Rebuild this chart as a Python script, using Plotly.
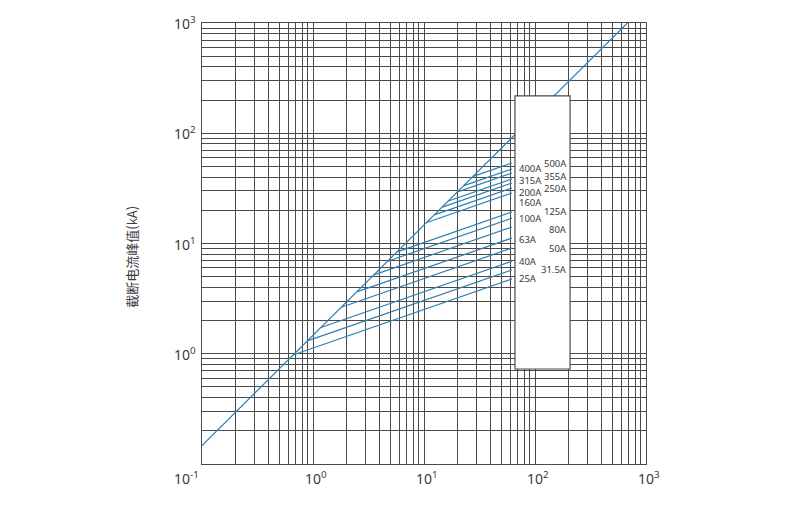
import math
import plotly.graph_objects as go

# ---- data ----
ratings = ["500A", "400A", "355A", "315A", "250A", "200A", "160A",
           "125A", "100A", "80A", "63A", "50A", "40A", "31.5A", "25A"]
# start point of each cut-off line (on the diagonal), prospective current kA
start_x = [27.7, 22.9, 20.1, 16.6, 14.6, 12.4, 10.6, 5.74, 4.71, 3.54, 2.48, 1.80, 1.18, 0.89, 0.67]
start_y = [40.6, 33.5, 29.4, 24.3, 21.4, 18.2, 15.5, 8.4, 6.9, 5.19, 3.64, 2.64, 1.73, 1.31, 0.98]
end_x = 62
end_y = [53.7, 47.4, 43.6, 38.5, 35.4, 31.9, 28.7, 19.3, 17.0, 14.1, 11.2, 9.1, 6.9, 5.75, 4.77]

diag_x = [0.1, 680]
diag_y = [0.147, 1000]

left_labels = ["400A", "315A", "200A", "160A", "100A", "63A", "40A", "25A"]
left_label_y = [48.4, 37.0, 29.3, 23.5, 16.8, 10.9, 6.8, 4.82]
right_labels = ["500A", "355A", "250A", "125A", "80A", "50A", "31.5A"]
right_label_y = [53.2, 40.9, 31.5, 19.7, 13.5, 9.0, 5.87]

x_tick_exp = [-1, 0, 1, 2, 3]
y_tick_exp = [0, 1, 2, 3]
y_title = "截断电流峰值(kA)"

# ---- styling ----
LINE_C = "#2f7fb1"
GRID_C = "#4a4a4a"
TEXT_C = "#3a3a3a"

fig = go.Figure()
fig.add_trace(go.Scatter(x=diag_x, y=diag_y, mode="lines",
                         line=dict(color=LINE_C, width=1.2), showlegend=False, hoverinfo="skip"))
for r, sx, sy, ey in zip(ratings, start_x, start_y, end_y):
    fig.add_trace(go.Scatter(x=[sx, end_x], y=[sy, ey], mode="lines", name=r,
                             line=dict(color=LINE_C, width=1.2), showlegend=False))

grid_vals = [m * 10 ** e for e in range(-1, 3) for m in range(1, 10)] + [1000]

axis_style = dict(type="log", range=[-1, 3], tickvals=grid_vals, showticklabels=False,
                  showgrid=True, gridcolor=GRID_C, gridwidth=1, zeroline=False,
                  showline=True, linecolor=GRID_C, linewidth=1.2, mirror=True, ticks="")
fig.update_xaxes(**axis_style)
fig.update_yaxes(**axis_style)

# white label box
fig.add_shape(type="rect", xref="x", yref="y", x0=66, x1=207, y0=0.727, y1=218,
              fillcolor="white", line=dict(color=GRID_C, width=1.2), layer="above")

label_font = dict(family="Noto Sans", size=9.5, color=TEXT_C)
anns = []
for t, y in zip(left_labels, left_label_y):
    anns.append(dict(x=1.847, y=math.log10(y), xref="x", yref="y", text=t, borderpad=0,
                     showarrow=False, xanchor="left", yanchor="middle", font=label_font))
for t, y in zip(right_labels, right_label_y):
    anns.append(dict(x=2.297, y=math.log10(y), xref="x", yref="y", text=t, borderpad=0,
                     showarrow=False, xanchor="right", yanchor="middle", font=label_font))

tick_font = dict(family="Noto Sans", size=14, color=TEXT_C)
for e in x_tick_exp:
    sup = ("-" if e < 0 else "") + str(abs(e))
    anns.append(dict(x=e, y=0, xref="x", yref="paper", yshift=-14,
                     xshift=-16 if e == -1 else 3,
                     text="10<sup>" + sup + "</sup>", showarrow=False,
                     xanchor="center", yanchor="middle", font=tick_font))
for e in y_tick_exp:
    anns.append(dict(x=0, y=e, xref="paper", yref="y", xshift=-4,
                     text="10<sup>" + str(e) + "</sup>", showarrow=False,
                     xanchor="right", yanchor="middle", font=tick_font))

anns.append(dict(x=0, y=0.47, xref="paper", yref="paper", xshift=-70, text=y_title,
                 textangle=-90, showarrow=False, xanchor="center", yanchor="middle",
                 font=dict(family="Noto Sans CJK SC", size=13, color=TEXT_C)))

fig.update_layout(width=800, height=506, margin=dict(l=194, r=162, t=15, b=50),
                  plot_bgcolor="white", paper_bgcolor="white", annotations=anns)

fig.write_html("out.html")
